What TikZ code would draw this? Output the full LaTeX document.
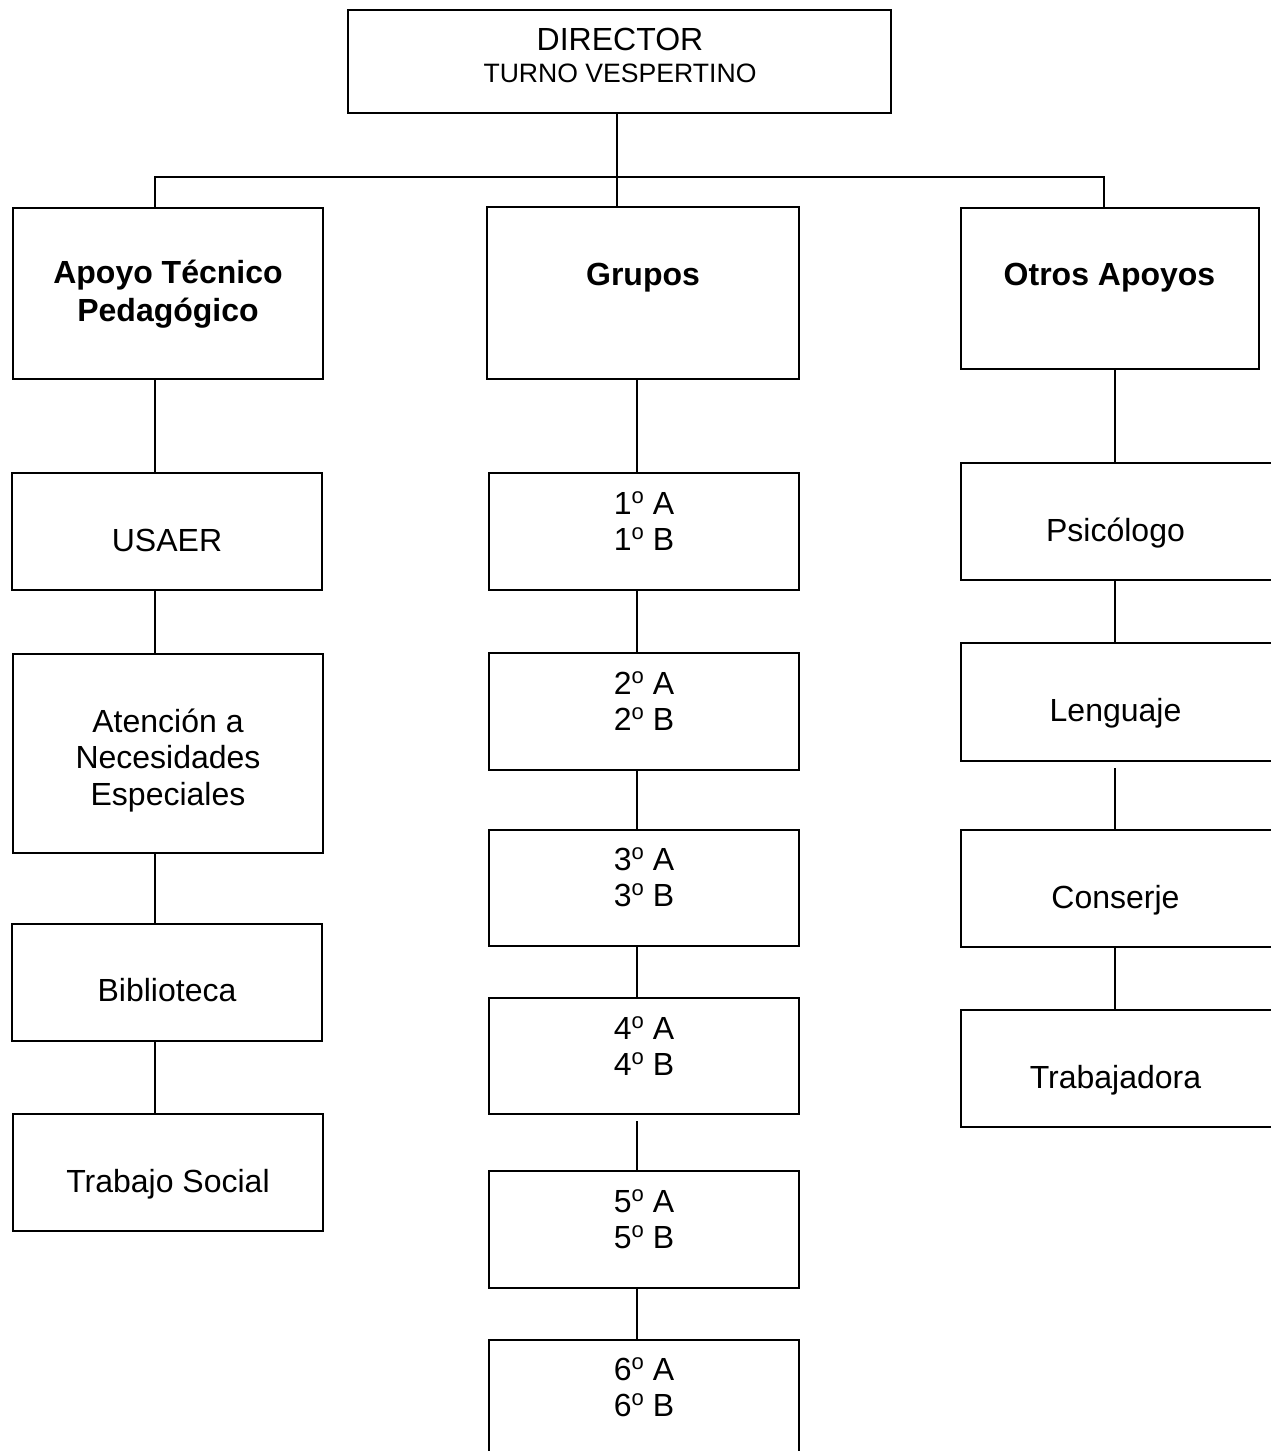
\documentclass[tikz,border=0pt]{standalone}
\usepackage{fontspec}
\setmainfont{Liberation Sans}
\usepackage{accsupp}
\usetikzlibrary{fit,calc}
\newcommand{\ordo}{\BeginAccSupp{method=hex,unicode,ActualText=00BA}\raisebox{5.4pt}{\fontsize{11}{12}\selectfont o}\EndAccSupp{}}
\begin{document}
\begin{tikzpicture}[x=0.5pt,y=-0.5pt,
  box/.style={draw, line width=1pt, inner sep=0pt},
  conn/.style={draw, line width=1pt},
  txt/.style={anchor=base, inner sep=0pt, font=\fontsize{16}{19}\selectfont},
  btxt/.style={anchor=base, inner sep=0pt, font=\fontsize{16}{19}\selectfont\bfseries},
  stxt/.style={anchor=base, inner sep=0pt, font=\fontsize{13.3}{15}\selectfont}]
\path[use as bounding box, fill=white] (0,0) rectangle (1270,1451);

% boxes
\node[box, fit={(348,10) (891,113)}] (dir) {};
\node[box, fit={(13,208) (323,379)}] (atp) {};
\node[box, fit={(487,207) (799,379)}] (grp) {};
\node[box, fit={(961,208) (1259,369)}] (otr) {};
\node[box, fit={(12,473) (322,590)}] (usa) {};
\node[box, fit={(13,654) (323,853)}] (ane) {};
\node[box, fit={(12,924) (322,1041)}] (bib) {};
\node[box, fit={(13,1114) (323,1231)}] (tso) {};
\node[box, fit={(489,473) (799,590)}] (g1) {};
\node[box, fit={(489,653) (799,770)}] (g2) {};
\node[box, fit={(489,830) (799,946)}] (g3) {};
\node[box, fit={(489,998) (799,1114)}] (g4) {};
\node[box, fit={(489,1171) (799,1288)}] (g5) {};
\node[box, fit={(489,1340) (799,1464)}] (g6) {};
\node[box, fit={(961,463) (1273,580)}] (psi) {};
\node[box, fit={(961,643) (1273,761)}] (len) {};
\node[box, fit={(961,830) (1273,947)}] (con) {};
\node[box, fit={(961,1010) (1273,1127)}] (tra) {};

% texts
\node[txt] (tdir1) at (620,50) {DIRECTOR};
\node[stxt] (tdir2) at (620,82) {TURNO VESPERTINO};
\node[btxt] (tatp1) at (168,283) {Apoyo Técnico};
\node[btxt] (tatp2) at (168,321) {Pedagógico};
\node[btxt] (tgrp) at (643,285) {Grupos};
\node[btxt] (totr) at (1109.5,285) {Otros Apoyos};
\node[txt] (tusa) at (167,551) {USAER};
\node[txt] (tane1) at (168,732) {Atención a};
\node[txt] (tane2) at (168,768.5) {Necesidades};
\node[txt] (tane3) at (168,805) {Especiales};
\node[txt] (tbib) at (167,1001) {Biblioteca};
\node[txt] (ttso) at (168,1192) {Trabajo Social};
\node[txt] (tg1a) at (644,514) {1\ordo{} A};
\node[txt] (tg1b) at (644,550) {1\ordo{} B};
\node[txt] (tg2a) at (644,694) {2\ordo{} A};
\node[txt] (tg2b) at (644,730) {2\ordo{} B};
\node[txt] (tg3a) at (644,870) {3\ordo{} A};
\node[txt] (tg3b) at (644,906) {3\ordo{} B};
\node[txt] (tg4a) at (644,1039) {4\ordo{} A};
\node[txt] (tg4b) at (644,1075) {4\ordo{} B};
\node[txt] (tg5a) at (644,1212) {5\ordo{} A};
\node[txt] (tg5b) at (644,1248) {5\ordo{} B};
\node[txt] (tg6a) at (644,1380) {6\ordo{} A};
\node[txt] (tg6b) at (644,1416) {6\ordo{} B};
\node[txt] (tpsi) at (1115.5,541) {Psicólogo};
\node[txt] (tlen) at (1115.5,721) {Lenguaje};
\node[txt] (tcon) at (1115.5,908) {Conserje};
\node[txt] (ttra) at (1115.5,1088) {Trabajadora};

% connector helpers
\coordinate (j) at (617,177);
\coordinate (lx) at (155,0);
\coordinate (mx) at (637,0);
\coordinate (rx) at (1115,0);
\coordinate (rt) at (1104,0);

% top bus
\draw[conn] (j |- dir.south) -- (j);
\draw[conn] (lx |- atp.north) |- (j) -| (rt |- otr.north);
\draw[conn] (j) -- (j |- grp.north);

% left column
\draw[conn] (lx |- atp.south) -- (lx |- usa.north);
\draw[conn] (lx |- usa.south) -- (lx |- ane.north);
\draw[conn] (lx |- ane.south) -- (lx |- bib.north);
\draw[conn] (lx |- bib.south) -- (lx |- tso.north);

% middle column
\draw[conn] (mx |- grp.south) -- (mx |- g1.north);
\draw[conn] (mx |- g1.south) -- (mx |- g2.north);
\draw[conn] (mx |- g2.south) -- (mx |- g3.north);
\draw[conn] (mx |- g3.south) -- (mx |- g4.north);
\draw[conn] ($(mx |- g4.south)+(0,6)$) -- (mx |- g5.north);
\draw[conn] (mx |- g5.south) -- (mx |- g6.north);

% right column
\draw[conn] (rx |- otr.south) -- (rx |- psi.north);
\draw[conn] (rx |- psi.south) -- (rx |- len.north);
\draw[conn] ($(rx |- len.south)+(0,6)$) -- (rx |- con.north);
\draw[conn] (rx |- con.south) -- (rx |- tra.north);
\end{tikzpicture}
\end{document}
